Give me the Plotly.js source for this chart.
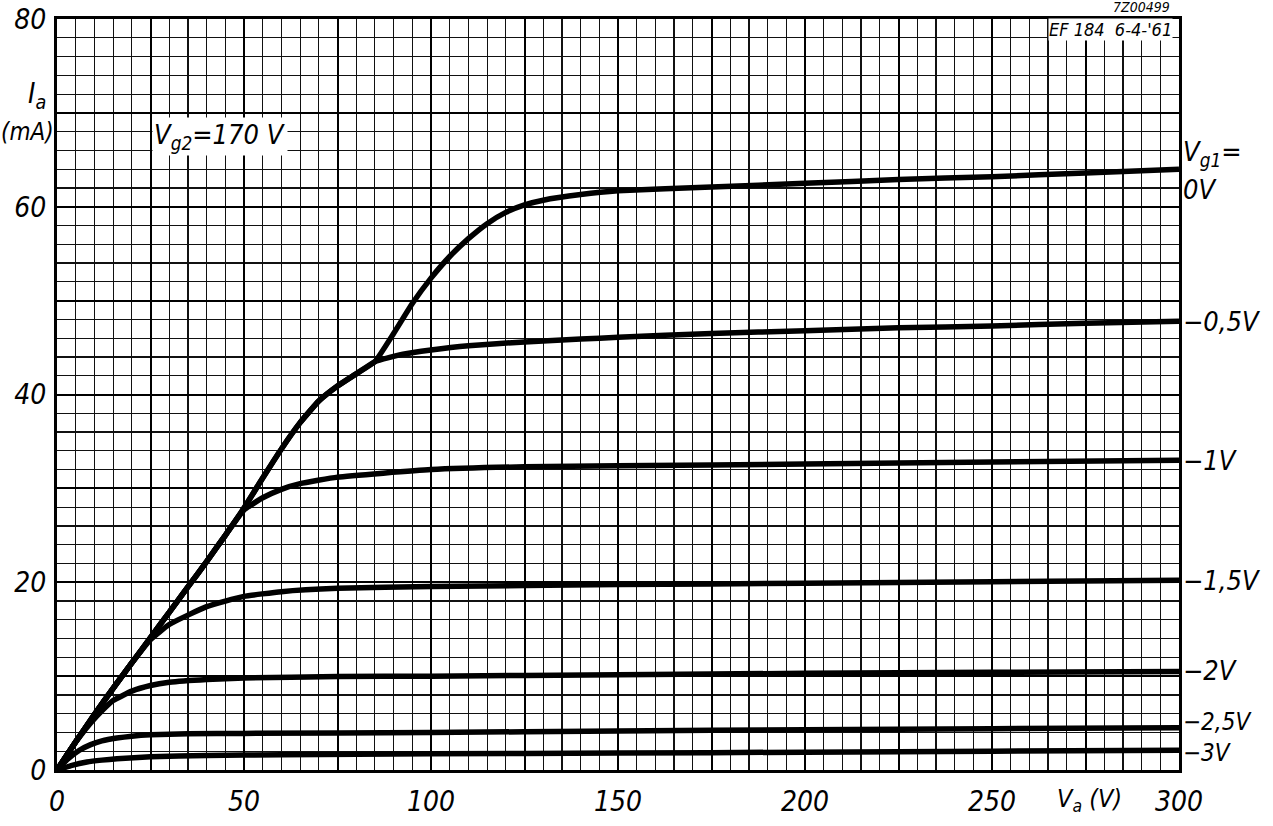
<!DOCTYPE html>
<html>
<head>
<meta charset="utf-8">
<script src="https://cdn.plot.ly/plotly-3.0.1.min.js"></script>
<style>
  html, body { margin: 0; padding: 0; background: #fff; }
  #chart { width: 1273px; height: 826px; }
</style>
</head>
<body>
<div id="chart"></div>
<script>
// ---- Data (anode voltage Va in V, anode current Ia in mA) ----
const va_0   = [0, 5, 10, 15, 20, 25, 30, 35, 40, 45, 50, 55, 60, 65, 70, 75, 80, 85, 90, 95, 100, 105, 110, 115, 120, 125, 130, 140, 150, 175, 200, 225, 250, 275, 300];
const ia_0   = [0, 3.0, 5.9, 8.7, 11.4, 14.1, 16.8, 19.5, 22.2, 25.0, 27.9, 31.1, 34.2, 37.0, 39.3, 40.9, 42.2, 43.5, 46.5, 49.7, 52.4, 54.7, 56.6, 58.2, 59.4, 60.2, 60.7, 61.3, 61.7, 62.1, 62.5, 62.9, 63.2, 63.6, 64.0];

const va_05  = [0, 5, 10, 15, 20, 25, 30, 35, 40, 45, 50, 55, 60, 65, 70, 75, 80, 85, 92.5, 100, 110, 125, 140, 150, 175, 200, 225, 250, 275, 300];
const ia_05  = [0, 3.0, 5.9, 8.7, 11.4, 14.1, 16.8, 19.5, 22.2, 25.0, 27.9, 31.1, 34.2, 37.0, 39.3, 40.9, 42.2, 43.5, 44.3, 44.75, 45.2, 45.6, 45.9, 46.1, 46.5, 46.8, 47.1, 47.3, 47.6, 47.8];

const va_1   = [0, 5, 10, 15, 20, 25, 30, 35, 40, 45, 50, 55, 60, 65, 75, 100, 125, 150, 200, 250, 300];
const ia_1   = [0, 3.0, 5.9, 8.7, 11.4, 14.1, 16.8, 19.5, 22.2, 25.0, 27.7, 29.0, 29.9, 30.5, 31.2, 32.0, 32.3, 32.4, 32.6, 32.8, 33.0];

const va_15  = [0, 5, 10, 15, 20, 25, 30, 35, 40, 45, 50, 60, 75, 100, 150, 200, 250, 300];
const ia_15  = [0, 3.0, 5.9, 8.7, 11.4, 13.9, 15.5, 16.5, 17.4, 18.0, 18.5, 19.0, 19.35, 19.55, 19.75, 19.9, 20.05, 20.2];

const va_2   = [0, 3, 6, 9, 12, 15, 20, 25, 30, 40, 50, 75, 100, 150, 200, 250, 300];
const ia_2   = [0, 1.8, 3.5, 5.0, 6.3, 7.4, 8.4, 9.0, 9.35, 9.65, 9.8, 9.95, 10.0, 10.15, 10.3, 10.4, 10.5];

const va_25  = [0, 3, 6, 9, 12, 16, 20, 25, 35, 50, 100, 150, 200, 250, 300];
const ia_25  = [0, 1.2, 2.1, 2.7, 3.1, 3.4, 3.6, 3.75, 3.85, 3.9, 4.0, 4.15, 4.3, 4.4, 4.5];

const va_3   = [0, 4, 8, 12, 16, 25, 40, 60, 100, 150, 200, 250, 300];
const ia_3   = [0, 0.5, 0.85, 1.05, 1.2, 1.4, 1.55, 1.62, 1.72, 1.8, 1.9, 2.0, 2.1];

const curveX = [va_0, va_05, va_1, va_15, va_2, va_25, va_3];
const curveY = [ia_0, ia_05, ia_1, ia_15, ia_2, ia_25, ia_3];
const curveLabels = ['0V', '\u22120,5V', '\u22121V', '\u22121,5V', '\u22122V', '\u22122,5V', '\u22123V'];
const labelShift  = [-20, 0, 0, 0, 1, 6, -3];
const labelSize   = [27, 27, 27, 27, 27, 24, 24];

// ---- Axis ticks ----
const xTickVals = [0, 25, 50, 75, 100, 125, 150, 175, 200, 225, 250, 275, 300];
const xTickText = ['0', '', '50', '', '100', '', '150', '', '200', '', '250', '', '300'];
const yTickVals = [0, 10, 20, 30, 40, 50, 60, 70, 80];
const yTickText = ['0', '', '20', '', '40', '', '60', '', '80'];

const FONT = 'DejaVu Sans Condensed, DejaVu Sans, sans-serif';

const traces = curveX.map((xs, i) => ({
  x: xs, y: curveY[i], type: 'scatter', mode: 'lines',
  line: { color: '#000', width: 5.5, shape: 'spline', smoothing: 0.4 },
  hoverinfo: 'skip', name: curveLabels[i]
}));

const annotations = [];
curveX.forEach((xs, i) => {
  annotations.push({
    x: xs[xs.length - 1], y: curveY[i][curveY[i].length - 1], xref: 'x', yref: 'y',
    text: curveLabels[i], showarrow: false, xanchor: 'left', yanchor: 'middle',
    xshift: 3, yshift: labelShift[i], borderpad: 0,
    font: { family: FONT, size: labelSize[i], style: 'italic', color: '#000' }
  });
});
annotations.push({
  x: va_0[va_0.length - 1], y: ia_0[ia_0.length - 1], xref: 'x', yref: 'y',
  text: 'V<sub>g1</sub>=', showarrow: false, xanchor: 'left', yanchor: 'middle',
  xshift: 3, yshift: 16, borderpad: 0,
  font: { family: FONT, size: 27, style: 'italic', color: '#000' }
});
annotations.push({
  x: 43.5, y: 67.5, xref: 'x', yref: 'y',
  text: 'V<sub>g2</sub>=170 V', showarrow: false, xanchor: 'center', yanchor: 'middle',
  bgcolor: '#fff', borderpad: 1,
  font: { family: FONT, size: 27, style: 'italic', color: '#000' }
});
annotations.push({
  x: 276, y: 0, xref: 'x', yref: 'y', yshift: -30,
  text: 'V<sub>a</sub> (V)', showarrow: false, xanchor: 'center', yanchor: 'middle',
  font: { family: FONT, size: 25, style: 'italic', color: '#000' }
});
annotations.push({
  x: -0.018, y: 0.898, xref: 'paper', yref: 'paper',
  text: 'I<sub>a</sub>', showarrow: false, xanchor: 'center', yanchor: 'middle', borderpad: 0,
  font: { family: FONT, size: 28, style: 'italic', color: '#000' }
});
annotations.push({
  x: -0.0505, y: 0.849, xref: 'paper', yref: 'paper',
  text: '(mA)', showarrow: false, xanchor: 'left', yanchor: 'middle', borderpad: 0,
  font: { family: FONT, size: 24, style: 'italic', color: '#000' }
});
annotations.push({
  x: 0.995, y: 1.0, xref: 'paper', yref: 'paper', yshift: -10,
  text: 'EF 184  6-4-\'61', showarrow: false, xanchor: 'right', yanchor: 'middle',
  bgcolor: '#fff', borderpad: 0,
  font: { family: FONT, size: 18, style: 'italic', color: '#000' }
});
annotations.push({
  x: 0.993, y: 1.0, xref: 'paper', yref: 'paper', yshift: 12,
  text: '7Z00499', showarrow: false, xanchor: 'right', yanchor: 'middle', borderpad: 0,
  font: { family: FONT, size: 14, style: 'italic', color: '#000' }
});

const axisCommon = {
  showgrid: true, gridcolor: '#000', gridwidth: 2,
  zeroline: false, showline: true, linecolor: '#000', linewidth: 3, mirror: true,
  ticks: '', tickmode: 'array', fixedrange: true,
  tickfont: { family: FONT, size: 28, style: 'italic', color: '#000' }
};

const layout = {
  width: 1273, height: 826,
  margin: { l: 57, r: 94, t: 19, b: 56 },
  paper_bgcolor: '#fff', plot_bgcolor: '#fff',
  showlegend: false,
  font: { family: FONT, color: '#000' },
  xaxis: Object.assign({}, axisCommon, {
    range: [0, 300], tickvals: xTickVals, ticktext: xTickText, ticklabelstandoff: 4,
    minor: { tick0: 0, dtick: 5, showgrid: true, gridcolor: '#111', gridwidth: 1.2 }
  }),
  yaxis: Object.assign({}, axisCommon, {
    range: [0, 80], tickvals: yTickVals, ticktext: yTickText, ticklabelstandoff: 2,
    minor: { tick0: 0, dtick: 2, showgrid: true, gridcolor: '#111', gridwidth: 1.2 }
  }),
  annotations: annotations
};

Plotly.newPlot('chart', traces, layout, { staticPlot: true, displayModeBar: false });
</script>
</body>
</html>
